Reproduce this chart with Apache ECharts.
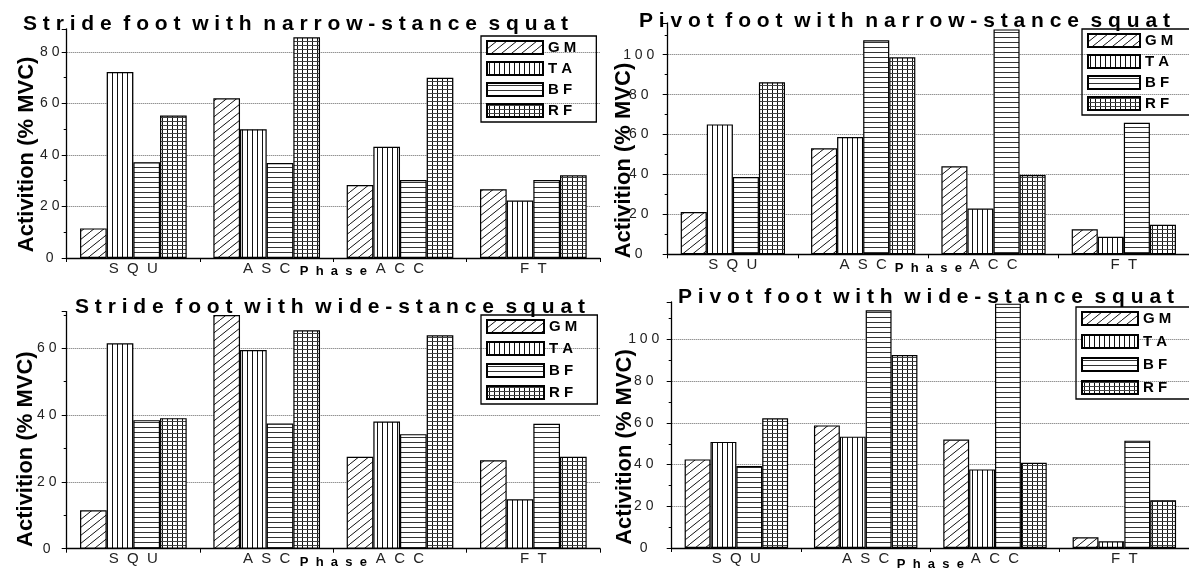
<!DOCTYPE html>
<html>
<head>
<meta charset="utf-8">
<title>Activation by phase</title>
<script src="https://cdn.jsdelivr.net/npm/echarts@6/dist/echarts.min.js"></script>
<style>
  html, body { margin: 0; padding: 0; background: #fff; }
  #chart { width: 1189px; height: 572px; }
</style>
</head>
<body>
<div id="chart"></div>
<script>
// x axis categories and series names
var phases = ['SQU', 'ASC', 'ACC', 'FT'];
var muscles = ['GM', 'TA', 'BF', 'RF'];

// % MVC, order = phases
var strideNarrowGM = [11.5, 62.0, 28.3, 26.7];
var strideNarrowTA = [72.2, 50.0, 43.2, 22.3];
var strideNarrowBF = [37.2, 36.9, 30.3, 30.3];
var strideNarrowRF = [55.3, 85.7, 70.0, 32.1];

var pivotNarrowGM = [21.2, 53.1, 44.1, 12.5];
var pivotNarrowTA = [65.1, 58.8, 22.9, 8.8];
var pivotNarrowBF = [38.7, 107.2, 112.7, 65.9];
var pivotNarrowRF = [86.2, 98.7, 39.7, 14.8];

var strideWideGM = [11.5, 70.0, 27.5, 26.5];
var strideWideTA = [61.5, 59.5, 38.1, 14.8];
var strideWideBF = [38.5, 37.5, 34.3, 37.4];
var strideWideRF = [39.1, 65.4, 63.9, 27.5];

var pivotWideGM = [42.5, 58.8, 52.0, 5.1];
var pivotWideTA = [50.9, 53.4, 37.7, 3.2];
var pivotWideBF = [39.3, 114.0, 117.2, 51.5];
var pivotWideRF = [62.2, 92.6, 40.9, 22.9];

// y axis ranges
var yMax = [89, 116, 71, 118];
var yStep = 20;

var FONT = 'Liberation Sans, Arial, sans-serif';

// "Stride foot" -> "S t r i d e  f o o t"
function spaceOut(str, wordGap) {
  return str.split(' ').map(function (w) {
    return w.split('').join(' ');
  }).join(wordGap || '  ');
}

// hatch fills, like the old b/w plot
function makePattern(kind) {
  var c = document.createElement('canvas');
  var ctx;
  if (kind === 'diag') { c.width = 10; c.height = 8; }
  else if (kind === 'vert') { c.width = 5; c.height = 4; }
  else if (kind === 'horz') { c.width = 4; c.height = 5; }
  else { c.width = 5; c.height = 4; }
  ctx = c.getContext('2d');
  ctx.fillStyle = '#fff';
  ctx.fillRect(0, 0, c.width, c.height);
  ctx.fillStyle = '#111';
  if (kind === 'diag') {
    ctx.strokeStyle = '#111';
    ctx.lineWidth = 1;
    ctx.beginPath();
    for (var k = -1; k <= 1; k++) {
      ctx.moveTo(k * 10, 8);
      ctx.lineTo(k * 10 + 10, 0);
    }
    ctx.stroke();
  } else if (kind === 'vert') {
    ctx.fillRect(2, 0, 1, 4);
  } else if (kind === 'horz') {
    ctx.fillStyle = '#333';
    ctx.fillRect(0, 2, 4, 1);
  } else {
    ctx.fillRect(2, 0, 1, 4);
    ctx.fillStyle = '#444';
    ctx.fillRect(0, 1, 5, 1);
  }
  return { image: c, repeat: 'repeat' };
}

var fills = [makePattern('diag'), makePattern('vert'), makePattern('horz'), makePattern('grid')];

var panels = [
  {
    title: 'Stride foot with narrow-stance squat',
    values: [strideNarrowGM, strideNarrowTA, strideNarrowBF, strideNarrowRF],
    grid: { left: 66.7, right: 589, top: 28.8, bottom: 314 },
    titlePos: { left: 23, top: 14 },
    legend: { left: 481, top: 36, itemGap: 6, itemWidth: 56 },
    labelMargin: 17, nameGap: 29, nameShift: 22, phaseGap: 7
  },
  {
    title: 'Pivot foot with narrow-stance squat',
    values: [pivotNarrowGM, pivotNarrowTA, pivotNarrowBF, pivotNarrowRF],
    grid: { left: 667.7, right: 0, top: 22.8, bottom: 317.7 },
    titlePos: { left: 639, top: 11 },
    legend: { left: 1082, top: 29, itemGap: 6, itemWidth: 52 },
    labelMargin: 29, nameGap: 33, nameShift: 44, phaseGap: 8
  },
  {
    title: 'Stride foot with wide-stance squat',
    values: [strideWideGM, strideWideTA, strideWideBF, strideWideRF],
    grid: { left: 66.7, right: 589, top: 311.6, bottom: 23.3 },
    titlePos: { left: 75, top: 297 },
    legend: { left: 481, top: 315, itemGap: 7, itemWidth: 57 },
    labelMargin: 20, nameGap: 30, nameShift: 38, phaseGap: 7
  },
  {
    title: 'Pivot foot with wide-stance squat',
    values: [pivotWideGM, pivotWideTA, pivotWideBF, pivotWideRF],
    grid: { left: 671.7, right: 0, top: 302, bottom: 22.7 },
    titlePos: { left: 678, top: 287 },
    legend: { left: 1076, top: 307, itemGap: 8, itemWidth: 56 },
    labelMargin: 28, nameGap: 36, nameShift: 44, phaseGap: 10
  }
];

var titles = [], grids = [], xAxes = [], yAxes = [], legends = [], series = [];

panels.forEach(function (p, i) {
  titles.push({
    text: spaceOut(p.title),
    left: p.titlePos.left,
    top: p.titlePos.top,
    padding: 0,
    textStyle: { fontFamily: FONT, fontSize: 21, fontWeight: 'bold', color: '#000' }
  });
  grids.push(p.grid);
  xAxes.push({
    type: 'category',
    gridIndex: i,
    data: phases,
    axisLine: { lineStyle: { color: '#000', width: 1.3 } },
    axisTick: { show: true, length: 4, lineStyle: { color: '#000' } },
    axisLabel: {
      margin: 3,
      fontFamily: FONT, fontSize: 15, color: '#222',
      formatter: function (v) { return spaceOut(v).split(' ').join('  '); }
    },
    name: spaceOut('Phase').split(' ').join('  '),
    nameLocation: 'middle',
    nameGap: p.phaseGap,
    nameMoveOverlap: false,
    nameTextStyle: { fontFamily: FONT, fontSize: 13, fontWeight: 'bold', color: '#000' }
  });
  yAxes.push({
    type: 'value',
    gridIndex: i,
    min: 0,
    max: yMax[i],
    interval: yStep,
    axisLine: { show: true, lineStyle: { color: '#000', width: 1.3 } },
    axisTick: { show: true, length: 5, lineStyle: { color: '#000' } },
    minorTick: { show: true, splitNumber: 2, length: 3, lineStyle: { color: '#000' } },
    axisLabel: {
      align: 'center',
      margin: p.labelMargin,
      fontFamily: FONT, fontSize: 14, color: '#222',
      formatter: function (v) { return v % yStep === 0 ? String(v).split('').join(' ') : ''; }
    },
    splitLine: {
      show: true, showMinLine: false, showMaxLine: false,
      lineStyle: { type: 'dotted', color: '#666', width: 1 }
    },
    name: 'Activition (% MVC)',
    nameLocation: 'middle',
    nameGap: p.nameGap,
    nameMoveOverlap: false,
    nameTextStyle: {
      fontFamily: FONT, fontSize: 22, fontWeight: 'bold', color: '#000',
      padding: [0, p.nameShift, 0, 0]
    }
  });
  legends.push({
    orient: 'vertical',
    left: p.legend.left,
    top: p.legend.top,
    padding: [4, 20, 4, 5],
    itemWidth: p.legend.itemWidth,
    itemHeight: 13,
    itemGap: p.legend.itemGap,
    icon: 'rect',
    selectedMode: false,
    borderColor: '#000',
    borderWidth: 1.3,
    data: muscles,
    formatter: function (name) { return name.split('').join(' '); },
    textStyle: { fontFamily: FONT, fontSize: 15, fontWeight: 'bold', color: '#000' }
  });
  muscles.forEach(function (m, j) {
    series.push({
      type: 'bar',
      name: m,
      xAxisIndex: i,
      yAxisIndex: i,
      data: p.values[j],
      barGap: '0%',
      barCategoryGap: '20%',
      itemStyle: { color: fills[j], borderColor: '#000', borderWidth: 1.2 }
    });
  });
});

var chart = echarts.init(document.getElementById('chart'));
chart.setOption({
  animation: false,
  backgroundColor: '#fff',
  title: titles,
  grid: grids,
  xAxis: xAxes,
  yAxis: yAxes,
  legend: legends,
  series: series
});
</script>
</body>
</html>
